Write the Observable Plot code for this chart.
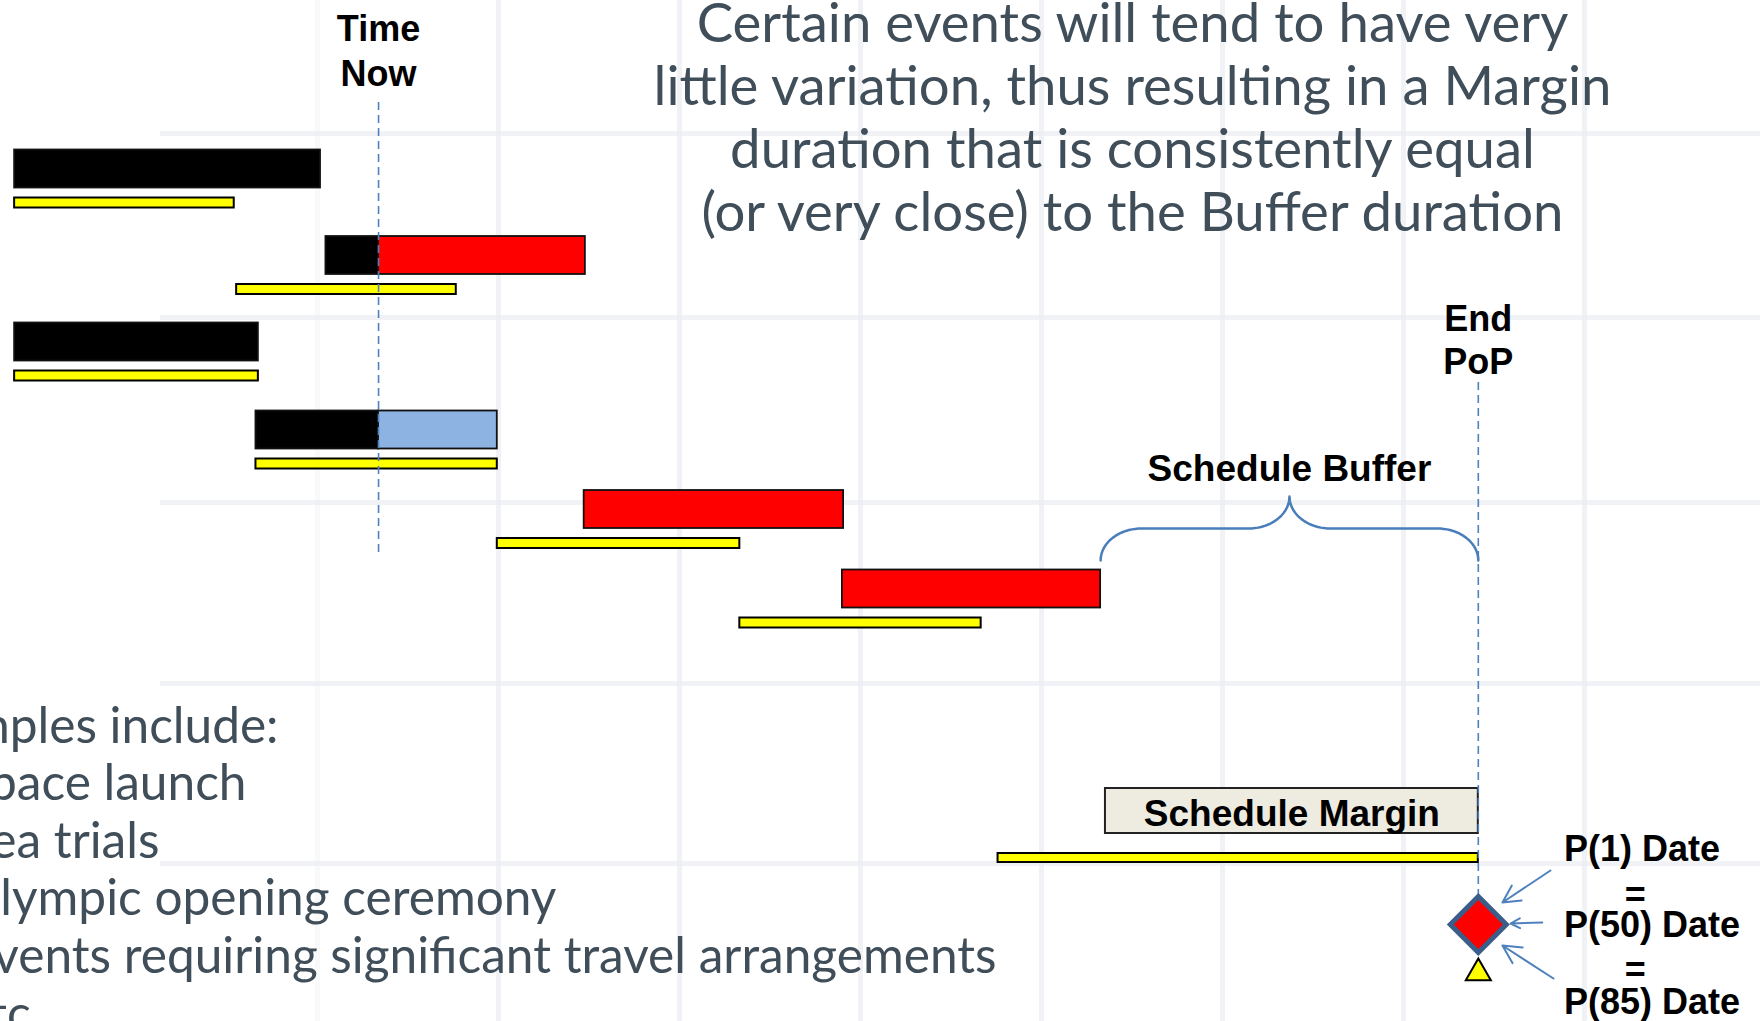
<!DOCTYPE html>
<html><head><meta charset="utf-8">
<script src="https://cdn.jsdelivr.net/npm/d3@7"></script>
<script src="https://cdn.jsdelivr.net/npm/@observablehq/plot@0.6"></script>
<style>
html,body{margin:0;padding:0;background:#fff;overflow:hidden;width:1760px;height:1021px}
#chart svg{display:block}
</style></head><body><div id="chart"></div>
<script>
// ---------- DATA (x in days, y in lane units) ----------
const taskRows      = [1, 2, 3, 4, 5, 6];
const rowLane       = [16.85, 25.5, 34.15, 42.95, 50.9, 58.85];
const baselineStart = [4.9, 23.3, 4.9, 24.9, 44.9, 65.0];
const baselineEnd   = [23.1, 41.5, 25.1, 44.9, 65.0, 85.0];

const segRow    = [1, 2, 2, 3, 4, 4, 5, 6];
const segStart  = [4.9, 30.7, 35.06, 4.9, 24.9, 35.06, 52.1, 73.5];
const segEnd    = [30.25, 35.06, 52.2, 25.1, 35.06, 44.9, 73.6, 94.9];
const segStatus = ["complete", "complete", "late", "complete", "complete", "ontrack", "late", "late"];

const timeNow       = 35.06;
const bufferStart   = 94.9;
const endPoP        = 126.2;
const marginStart   = 95.3;
const marginBaseStart = 86.4;
const marginLane    = 81.05;
const marginBaseLane = 85.75;
const milestoneLane = 92.4;
const triangleLane  = 97.24;

const gridDays  = [30, 45, 60, 75, 90, 105, 120, 135, 150];
const gridLanes = [13.3, 31.7, 50.2, 68.3, 86.3];

const titleLines = [
  "Certain events will tend to have very",
  "little variation, thus resulting in a Margin",
  "duration that is consistently equal",
  "(or very close) to the Buffer duration"
];
const exampleLines = [
  "Examples include:",
  "Space launch",
  "Sea trials",
  "Olympic opening ceremony",
  "Events requiring significant travel arrangements",
  "Etc."
];
const exampleEnds = [26.77, 24.12, 16.9, 49.8, 86.27, 7.2];
const probLabels = ["P(1) Date", "P(50) Date", "P(85) Date"];

// ---------- LAYOUT ----------
const W = 1760, H = 1021;
const dayPx = 181 / 15;
const xDomain = [45 / dayPx, (W + 45) / dayPx];
const BAR_HALF = 1.9, BASE_OFF = 3.4, BASE_HALF = 0.5;

const segments = segRow.map((r, i) => ({row: r, start: segStart[i], end: segEnd[i], status: segStatus[i]}));
const baselines = taskRows.map((r, i) => ({row: r, start: baselineStart[i], end: baselineEnd[i]}));
const laneOf = r => rowLane[r - 1];

// brace construction (quarter ellipses)
const braceTip = (bufferStart + endPoP) / 2;
const rx = 3.4, yEnd = 56.0, yFlat = 52.8, yTip = 49.6;
function arc(cx, cy, ax, ay, t0, t1) {
  return d3.range(0, 21).map(k => {
    const t = t0 + (t1 - t0) * k / 20;
    return {x: cx + ax * Math.cos(t), y: cy + ay * Math.sin(t)};
  });
}
const P = Math.PI;
const brace = [
  ...arc(bufferStart + rx, yEnd, rx, yEnd - yFlat, P, 1.5 * P),
  ...arc(braceTip - rx, yTip, rx, yFlat - yTip, 0.5 * P, 0),
  ...arc(braceTip + rx, yTip, rx, yFlat - yTip, P, 0.5 * P),
  ...arc(endPoP - rx, yEnd, rx, yEnd - yFlat, 1.5 * P, 2 * P)
];

const arrows = [
  {x1: 132.18, y1: 87.0, x2: 128.2, y2: 90.2},
  {x1: 131.5, y1: 92.2, x2: 128.87, y2: 92.3},
  {x1: 132.43, y1: 97.8, x2: 128.2, y2: 94.5}
];

const BOLD = "Liberation Sans, Arial, sans-serif";
const BODY = "Lato, 'Open Sans', sans-serif";
const TITLE_C = "#404e5a";
const BLUE = "#4f81bd";
const GRID = "#e9edf2";

const chart = Plot.plot({
  width: W, height: H,
  marginTop: 0, marginRight: 0, marginBottom: 0, marginLeft: 0,
  x: {domain: xDomain, range: [0, W], axis: null},
  y: {domain: [0, H / 10], range: [0, H], axis: null},
  color: {domain: ["complete", "late", "ontrack"], range: ["#000000", "#ff0000", "#8db3e2"]},
  style: {background: "white", overflow: "hidden"},
  marks: [
    // faint background grid
    Plot.ruleX(gridDays, {x: d => d, y1: 0, y2: H / 10, stroke: GRID, strokeWidth: 5, strokeOpacity: d => d === 30 ? 0.35 : 0.7}),
    Plot.ruleY(gridLanes, {y: d => d, x1: 17, x2: xDomain[1], stroke: GRID, strokeWidth: 5, strokeOpacity: 0.7}),

    // title text
    Plot.text(titleLines, {x: 97.54, y: (d, i) => 4.1 + i * 6.3, text: d => d, lineAnchor: "bottom", textAnchor: "middle",
      fontFamily: BODY, fontSize: 54.5, fill: TITLE_C}),
    // example list
    Plot.text(exampleLines, {x: (d, i) => exampleEnds[i], y: (d, i) => 74.2 + i * 5.76, text: d => d, lineAnchor: "bottom", textAnchor: "end",
      fontFamily: BODY, fontSize: 49.6, fill: TITLE_C}),

    // baselines (yellow)
    Plot.rect(baselines, {x1: "start", x2: "end", y1: d => laneOf(d.row) + BASE_OFF - BASE_HALF, y2: d => laneOf(d.row) + BASE_OFF + BASE_HALF,
      fill: "#ffff00", stroke: "#000", strokeWidth: 2}),
    // task bars
    Plot.rect(segments, {x1: "start", x2: "end", y1: d => laneOf(d.row) - BAR_HALF, y2: d => laneOf(d.row) + BAR_HALF,
      fill: "status", stroke: "#111", strokeWidth: 1.8}),

    // schedule margin
    Plot.rect([{start: marginStart, end: endPoP}], {x1: "start", x2: "end", y1: marginLane - 2.25, y2: marginLane + 2.25,
      fill: "#eeece1", stroke: "#222", strokeWidth: 2}),
    Plot.rect([{start: marginBaseStart, end: endPoP}], {x1: "start", x2: "end", y1: marginBaseLane - 0.45, y2: marginBaseLane + 0.45,
      fill: "#ffff00", stroke: "#000", strokeWidth: 2}),
    Plot.text(["Schedule Margin"], {x: (marginStart + endPoP) / 2, y: 82.5, text: d => d, lineAnchor: "bottom",
      fontFamily: BOLD, fontWeight: "bold", fontSize: 37, fill: "#000"}),

    // time now / end PoP dashed lines
    Plot.ruleX([timeNow], {x: d => d, y1: 10.2, y2: 55.6, stroke: BLUE, strokeWidth: 1.6, strokeDasharray: "8,5"}),
    Plot.ruleX([endPoP], {x: d => d, y1: 38.2, y2: 89.5, stroke: BLUE, strokeWidth: 1.6, strokeDasharray: "8,5"}),
    Plot.text(["Time", "Now"], {x: timeNow, y: (d, i) => 4.0 + i * 4.5, text: d => d, lineAnchor: "bottom",
      fontFamily: BOLD, fontWeight: "bold", fontSize: 36, fill: "#000"}),
    Plot.text(["End", "PoP"], {x: endPoP, y: (d, i) => 33.0 + i * 4.3, text: d => d, lineAnchor: "bottom",
      fontFamily: BOLD, fontWeight: "bold", fontSize: 36, fill: "#000"}),

    // schedule buffer brace
    Plot.line(brace, {x: "x", y: "y", stroke: "#4a7ebb", strokeWidth: 2.5}),
    Plot.text(["Schedule Buffer"], {x: braceTip, y: 48.0, text: d => d, lineAnchor: "bottom",
      fontFamily: BOLD, fontWeight: "bold", fontSize: 37, fill: "#000"}),

    // milestone
    Plot.arrow(arrows, {x1: "x1", y1: "y1", x2: "x2", y2: "y2", stroke: BLUE, strokeWidth: 2, headLength: 16, headAngle: 55}),
    Plot.dot([endPoP], {x: d => d, y: milestoneLane, symbol: "diamond2", r: 25.2, fill: "#ff0000", stroke: "#3b5d8a", strokeWidth: 5}),
    Plot.dot([endPoP], {x: d => d, y: triangleLane, symbol: "triangle", r: 9.3, fill: "#ffff00", stroke: "#000", strokeWidth: 2}),
    Plot.text(probLabels, {x: 133.3, y: (d, i) => 86.0 + i * 7.65, text: d => d, lineAnchor: "bottom", textAnchor: "start",
      fontFamily: BOLD, fontWeight: "bold", fontSize: 36, fill: "#000"}),
    Plot.text(["=", "="], {x: 139.2, y: (d, i) => 89.5 + i * 7.5, text: d => d, lineAnchor: "middle", textAnchor: "middle",
      fontFamily: BOLD, fontWeight: "bold", fontSize: 36, fill: "#000"})
  ]
});
document.getElementById("chart").appendChild(chart);
</script></body></html>
